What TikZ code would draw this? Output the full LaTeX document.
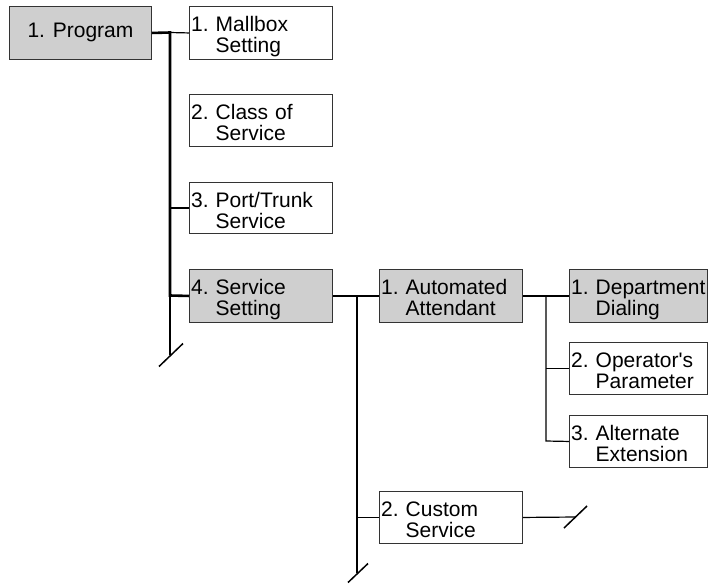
\documentclass[tikz,border=0pt]{standalone}
\usepackage{fontspec}
\setmainfont{Liberation Sans}[Ligatures=TeXOff]
\definecolor{boxgray}{HTML}{CFCFCF}
\definecolor{edgegray}{HTML}{333333}
\newcommand\twoline[3]{#1~#2\\\phantom{#1~}#3}
\tikzset{
  box/.style={draw=edgegray, line width=0.9pt, minimum width=143pt, minimum height=53pt,
    inner sep=0pt, anchor=north west, font=\fontsize{21}{21}\selectfont},
  shaded/.style={box, fill=boxgray},
  lbl/.style={anchor=base west, inner sep=0pt, text width=138pt, align=left,
    font=\fontsize{21}{21}\selectfont},
  heavy/.style={line width=2.6pt, line join=miter},
  light/.style={line width=1.2pt},
  slash/.style={line width=1.5pt},
}
\begin{document}
\begin{tikzpicture}[x=1pt,y=-1pt]
\useasboundingbox (0,0) rectangle (708,584);
% boxes
\node[shaded, minimum width=142pt] (prog) at (9,6) {1. Program};
\node[box] (mb) at (189,6) {};
\node[box, minimum height=52pt] (cos) at (189,94) {};
\node[box, minimum height=51pt] (pt) at (189,182) {};
\node[shaded] (ss) at (189,269) {};
\node[shaded] (aa) at (379,269) {};
\node[shaded, minimum width=138pt] (dd) at (569,269) {};
\node[box, minimum width=138pt, minimum height=52pt] (op) at (569,342) {};
\node[box, minimum width=138pt, minimum height=52pt] (ae) at (569,415) {};
\node[box, minimum height=52pt] (cs) at (379,491) {};
% labels
\node[lbl] (mbl) at ([shift={(2,25)}]mb.north west) {\twoline{1.}{Mallbox}{Setting}};
\node[lbl] (cosl) at ([shift={(2,25)}]cos.north west) {\twoline{2.}{Class of}{Service}};
\node[lbl] (ptl) at ([shift={(2,25)}]pt.north west) {\twoline{3.}{Port/Trunk}{Service}};
\node[lbl] (ssl) at ([shift={(2,25)}]ss.north west) {\twoline{4.}{Service}{Setting}};
\node[lbl] (aal) at ([shift={(2,25)}]aa.north west) {\twoline{1.}{Automated}{Attendant}};
\node[lbl] (ddl) at ([shift={(2,25)}]dd.north west) {\twoline{1.}{Department}{Dialing}};
\node[lbl] (opl) at ([shift={(2,25)}]op.north west) {\twoline{2.}{Operator's}{Parameter}};
\node[lbl] (ael) at ([shift={(2,25)}]ae.north west) {\twoline{3.}{Alternate}{Extension}};
\node[lbl] (csl) at ([shift={(2,25)}]cs.north west) {\twoline{2.}{Custom}{Service}};
% junctions
\coordinate (j1) at (170,32.5);
\coordinate (j2) at (170,295.5);
\coordinate (s1) at (171,355);
\coordinate (j3) at (357,295.5);
\coordinate (s2) at (358,573);
\coordinate (s3) at (575.5,517);
\coordinate (j4) at (546,295.5);
\coordinate (j5) at (546,441);
% connectors
\draw[heavy] (prog.east) -- (j1) -- (j2) -- (ss.west);
\draw[light] (j1) -- (mb.west);
\draw[light] (pt.west -| j1) -- (pt.west);
\draw[light] (j2) -- (j2 |- s1);
\draw[slash] ([shift={(-12,11.5)}]s1) -- ([shift={(12,-11.5)}]s1);
\draw[heavy] (ss.east) -- (aa.west);
\draw[light] (j3) -- (j3 |- s2);
\draw[slash] ([shift={(-10,9.5)}]s2) -- ([shift={(10,-9.5)}]s2);
\draw[light] (cs.west -| j3) -- (cs.west);
\draw[light] (cs.east) -- (s3);
\draw[slash] ([shift={(-11.5,11)}]s3) -- ([shift={(11.5,-11)}]s3);
\draw[heavy] (aa.east) -- (dd.west);
\draw[light] (j4) -- (j5) -- (ae.west);
\draw[light] (op.west -| j4) -- (op.west);
\end{tikzpicture}
\end{document}
